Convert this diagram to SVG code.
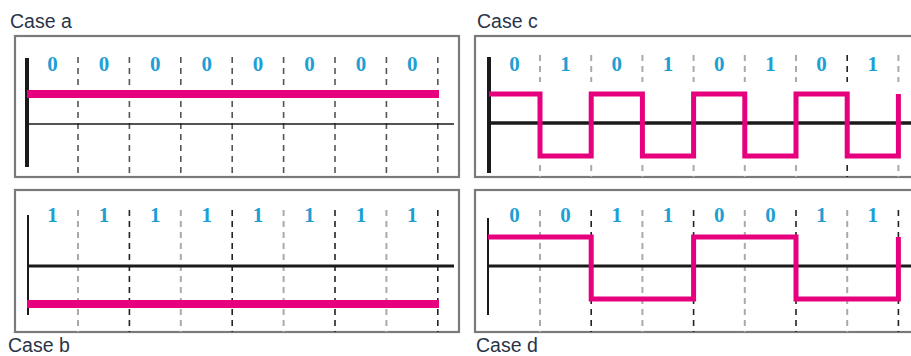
<svg xmlns="http://www.w3.org/2000/svg" width="911" height="356" viewBox="0 0 911 356">
<style>
.title{font-family:"Liberation Sans",Arial,sans-serif;font-size:19.5px;fill:#2a3448}
.bit{font-family:"Liberation Serif","Times New Roman",serif;font-size:21px;font-weight:bold;fill:#1e9fd4;text-anchor:middle}
.box{fill:#fff;stroke:#7a7a7a;stroke-width:2.2}
.dg{stroke:#555;stroke-width:1.6;stroke-dasharray:6 5}
.dl{stroke:#aaa;stroke-width:2;stroke-dasharray:6 5}
.dk{stroke:#222;stroke-width:1.6;stroke-dasharray:6 5}
.pk{fill:none;stroke:#e6007e;stroke-linejoin:miter}
.ax{stroke:#1a1a1a}
</style>
<rect width="911" height="356" fill="#fff"/>

<g id="case-a">
<text class="title" x="10" y="28">Case a</text>
<rect class="box" x="15" y="36" width="444" height="141"/>
<g>
<line class="dg" x1="78" y1="57" x2="78" y2="177"/>
<line class="dg" x1="129.4" y1="57" x2="129.4" y2="177"/>
<line class="dg" x1="180.8" y1="57" x2="180.8" y2="177"/>
<line class="dg" x1="232.2" y1="57" x2="232.2" y2="177"/>
<line class="dg" x1="283.6" y1="57" x2="283.6" y2="177"/>
<line class="dg" x1="335" y1="57" x2="335" y2="177"/>
<line class="dg" x1="386.4" y1="57" x2="386.4" y2="177"/>
<line class="dg" x1="437.8" y1="57" x2="437.8" y2="177"/>
</g>
<line class="ax" x1="27" y1="58" x2="27" y2="167" stroke-width="4"/>
<line class="ax" x1="27" y1="124" x2="454" y2="124" stroke-width="1.6"/>
<line class="pk" x1="27" y1="94" x2="439" y2="94" stroke-width="8"/>
<g>
<text class="bit" x="52.5" y="71">0</text>
<text class="bit" x="103.9" y="71">0</text>
<text class="bit" x="155.3" y="71">0</text>
<text class="bit" x="206.7" y="71">0</text>
<text class="bit" x="258.1" y="71">0</text>
<text class="bit" x="309.5" y="71">0</text>
<text class="bit" x="360.9" y="71">0</text>
<text class="bit" x="412.3" y="71">0</text>
</g>
</g>

<g id="case-b">
<rect class="box" x="15" y="190" width="444" height="142"/>
<g>
<line class="dl" x1="78" y1="210" x2="78" y2="332"/>
<line class="dk" x1="129.4" y1="210" x2="129.4" y2="332"/>
<line class="dl" x1="180.8" y1="210" x2="180.8" y2="332"/>
<line class="dk" x1="232.2" y1="210" x2="232.2" y2="332"/>
<line class="dl" x1="283.6" y1="210" x2="283.6" y2="332"/>
<line class="dk" x1="335" y1="210" x2="335" y2="332"/>
<line class="dl" x1="386.4" y1="210" x2="386.4" y2="332"/>
<line class="dk" x1="437.8" y1="210" x2="437.8" y2="332"/>
</g>
<line class="ax" x1="28" y1="215" x2="28" y2="315" stroke-width="2"/>
<line class="ax" x1="28" y1="266" x2="454" y2="266" stroke-width="3"/>
<line class="pk" x1="27" y1="304" x2="439" y2="304" stroke-width="8"/>
<g>
<text class="bit" x="52.5" y="222">1</text>
<text class="bit" x="103.9" y="222">1</text>
<text class="bit" x="155.3" y="222">1</text>
<text class="bit" x="206.7" y="222">1</text>
<text class="bit" x="258.1" y="222">1</text>
<text class="bit" x="309.5" y="222">1</text>
<text class="bit" x="360.9" y="222">1</text>
<text class="bit" x="412.3" y="222">1</text>
</g>
<text class="title" x="8" y="352">Case b</text>
</g>

<g id="case-c">
<text class="title" x="477" y="28">Case c</text>
<rect class="box" x="475" y="36" width="445" height="141"/>
<g>
<line class="dl" x1="540" y1="55" x2="540" y2="82"/><line class="dl" x1="540" y1="165" x2="540" y2="177"/>
<line class="dl" x1="591.2" y1="55" x2="591.2" y2="82"/><line class="dl" x1="591.2" y1="165" x2="591.2" y2="177"/>
<line class="dl" x1="642.4" y1="55" x2="642.4" y2="82"/><line class="dl" x1="642.4" y1="165" x2="642.4" y2="177"/>
<line class="dl" x1="693.6" y1="55" x2="693.6" y2="82"/><line class="dl" x1="693.6" y1="165" x2="693.6" y2="177"/>
<line class="dl" x1="744.8" y1="55" x2="744.8" y2="82"/><line class="dl" x1="744.8" y1="165" x2="744.8" y2="177"/>
<line class="dl" x1="796" y1="55" x2="796" y2="82"/><line class="dl" x1="796" y1="165" x2="796" y2="177"/>
<line class="dk" x1="847.2" y1="55" x2="847.2" y2="82"/><line class="dk" x1="847.2" y1="165" x2="847.2" y2="177"/>
<line class="dl" x1="898.4" y1="55" x2="898.4" y2="82"/><line class="dl" x1="898.4" y1="165" x2="898.4" y2="177"/>
</g>
<line class="ax" x1="489" y1="57" x2="489" y2="173" stroke-width="4"/>
<line class="ax" x1="489" y1="123" x2="911" y2="123" stroke-width="3.5"/>
<path class="pk" stroke-width="5" d="M489,94 H540 V156 H591.2 V94 H642.4 V156 H693.6 V94 H744.8 V156 H796 V94 H847.2 V156 H898.4 V94"/>
<g>
<text class="bit" x="514.5" y="71">0</text>
<text class="bit" x="565.6" y="71">1</text>
<text class="bit" x="616.8" y="71">0</text>
<text class="bit" x="668" y="71">1</text>
<text class="bit" x="719.2" y="71">0</text>
<text class="bit" x="770.4" y="71">1</text>
<text class="bit" x="821.6" y="71">0</text>
<text class="bit" x="872.8" y="71">1</text>
</g>
</g>

<g id="case-d">
<rect class="box" x="475" y="190" width="445" height="142"/>
<g>
<line class="dl" x1="540" y1="210" x2="540" y2="332"/>
<line class="dk" x1="591.2" y1="210" x2="591.2" y2="332"/>
<line class="dl" x1="642.4" y1="210" x2="642.4" y2="332"/>
<line class="dk" x1="693.6" y1="210" x2="693.6" y2="332"/>
<line class="dl" x1="744.8" y1="210" x2="744.8" y2="332"/>
<line class="dk" x1="796" y1="210" x2="796" y2="332"/>
<line class="dl" x1="847.2" y1="210" x2="847.2" y2="332"/>
<line class="dk" x1="898.4" y1="210" x2="898.4" y2="332"/>
</g>
<line class="ax" x1="488" y1="218" x2="488" y2="315" stroke-width="2"/>
<line class="ax" x1="488" y1="266" x2="911" y2="266" stroke-width="3"/>
<path class="pk" stroke-width="5" d="M488,237 H591.2 V299 H693.6 V237 H796 V299 H898.4 V237"/>
<g>
<text class="bit" x="514.5" y="222">0</text>
<text class="bit" x="565.6" y="222">0</text>
<text class="bit" x="616.8" y="222">1</text>
<text class="bit" x="668" y="222">1</text>
<text class="bit" x="719.2" y="222">0</text>
<text class="bit" x="770.4" y="222">0</text>
<text class="bit" x="821.6" y="222">1</text>
<text class="bit" x="872.8" y="222">1</text>
</g>
<text class="title" x="476" y="352">Case d</text>
</g>
</svg>
